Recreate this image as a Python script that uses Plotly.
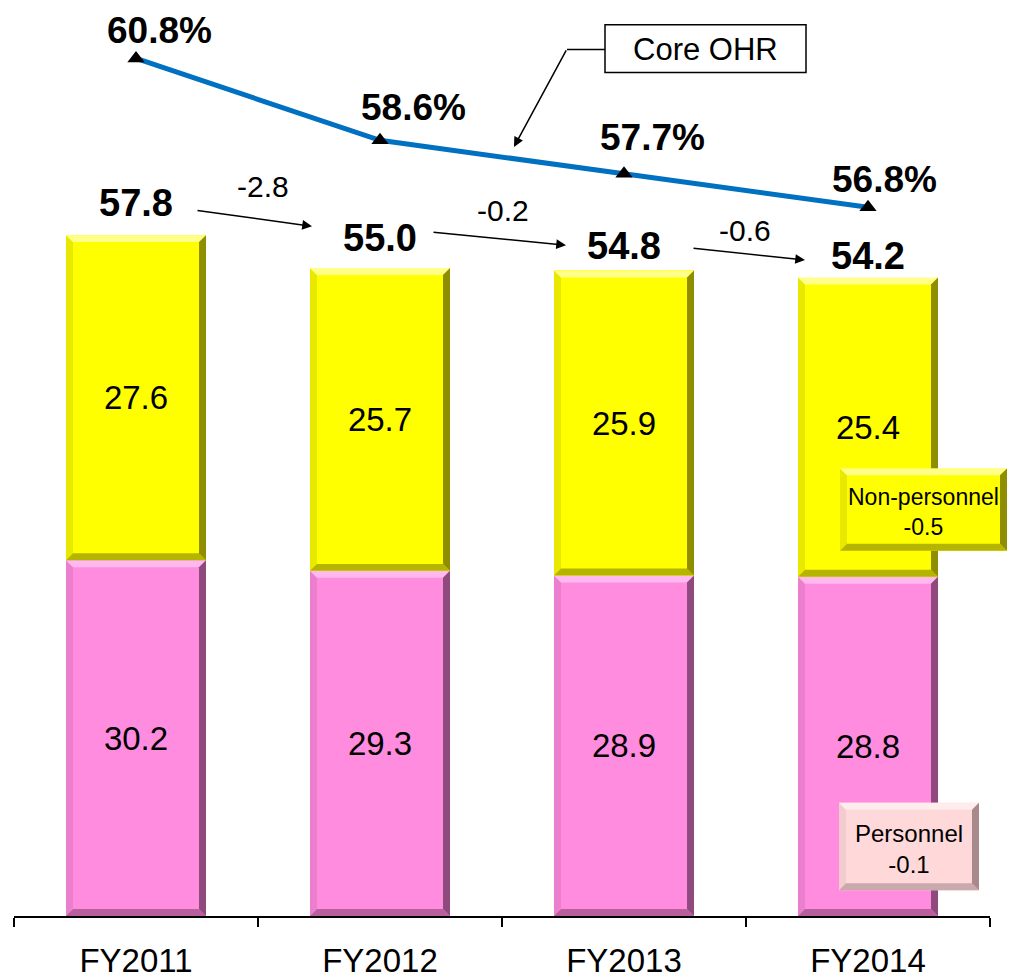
import plotly.graph_objects as go

# ---- data -------------------------------------------------------------
years = ["FY2011", "FY2012", "FY2013", "FY2014"]
personnel = [30.2, 29.3, 28.9, 28.8]
non_personnel = [27.6, 25.7, 25.9, 25.4]
totals = [57.8, 55.0, 54.8, 54.2]
core_ohr = [60.8, 58.6, 57.7, 56.8]

# ---- geometry of the plotting area (pixels) ---------------------------
W, H = 1011, 979
ML, MR, MT, MB = 14, 21, 0, 56
PW, PH = W - ML - MR, H - MT - MB
Y_RANGE = [0, 77.76]
Y2_RANGE = [37.76, 62.37]
BAR_W = 0.574
xpos = list(range(len(years)))

FONT = "Arial, Liberation Sans, sans-serif"


def paper_x(px):
    return (px - ML) / PW


def paper_y(py):
    return (MT + PH - py) / PH


# ---- bevel helper -----------------------------------------------------
def bevel(x0, x1, y0, y1, bx, by, cols, xref, yref):
    top, right, bottom, left = cols
    polys = [
        (left, [(x0, y0), (x0, y1), (x0 + bx, y1 - by), (x0 + bx, y0 + by)]),
        (bottom, [(x0, y0), (x1, y0), (x1 - bx, y0 + by), (x0 + bx, y0 + by)]),
        (top, [(x0, y1), (x1, y1), (x1 - bx, y1 - by), (x0 + bx, y1 - by)]),
        (right, [(x1, y1), (x1, y0), (x1 - bx, y0 + by), (x1 - bx, y1 - by)]),
    ]
    out = []
    for col, pts in polys:
        path = "M " + " L ".join(f"{a},{b}" for a, b in pts) + " Z"
        out.append(dict(type="path", path=path, xref=xref, yref=yref,
                        fillcolor=col, line=dict(width=0), layer="above"))
    return out


YELLOW = "#FFFF00"
PINK = "#FF8CDE"
YELLOW_BEVEL = ("#FFFF8A", "#8E8E00", "#B5B500", "#E8E800")
PINK_BEVEL = ("#FFB9EE", "#8E4A7C", "#B8609E", "#EC7FCD")

fig = go.Figure()

fig.add_trace(go.Bar(
    x=xpos, y=personnel, width=BAR_W, name="Personnel",
    marker=dict(color=PINK, line=dict(width=0)),
    text=[f"{v:.1f}" for v in personnel], textposition="inside",
    insidetextanchor="middle", constraintext="none",
    textfont=dict(family=FONT, size=33, color="black"),
))
fig.add_trace(go.Bar(
    x=xpos, y=non_personnel, width=BAR_W, name="Non-personnel",
    marker=dict(color=YELLOW, line=dict(width=0)),
    text=[f"{v:.1f}" for v in non_personnel], textposition="inside",
    insidetextanchor="middle", constraintext="none",
    textfont=dict(family=FONT, size=33, color="black"),
))
fig.add_trace(go.Scatter(
    x=xpos, y=core_ohr, yaxis="y2", mode="lines+markers", name="Core OHR",
    line=dict(color="#0070C0", width=5),
    marker=dict(symbol="triangle-up", size=15, color="black", line=dict(width=0)),
))

shapes = []
bx = 7 / (PW / 4)
by = 7 / (PH / (Y_RANGE[1] - Y_RANGE[0]))
for i in xpos:
    x0, x1 = i - BAR_W / 2, i + BAR_W / 2
    shapes += bevel(x0, x1, 0, personnel[i], bx, by, PINK_BEVEL, "x", "y")
    shapes += bevel(x0, x1, personnel[i], totals[i], bx, by, YELLOW_BEVEL, "x", "y")

annotations = []


def label(px, py, text, size, bold=False):
    annotations.append(dict(
        x=paper_x(px), y=paper_y(py), xref="paper", yref="paper",
        xanchor="center", yanchor="middle", align="center",
        text=f"<b>{text}</b>" if bold else text, showarrow=False,
        font=dict(family=FONT, size=size, color="black")))


def arrow(tail, head):
    (tx, ty), (hx, hy) = tail, head
    annotations.append(dict(
        x=paper_x(hx), y=paper_y(hy), xref="paper", yref="paper",
        ax=tx - hx, ay=ty - hy, axref="pixel", ayref="pixel", text="",
        showarrow=True, arrowhead=2, arrowsize=1.3, arrowwidth=1.5,
        arrowcolor="black", standoff=0))


# stacked totals above each bar
total_shift = [32, 30, 24, 22]
for i, t in enumerate(totals):
    annotations.append(dict(
        x=i, y=t, xref="x", yref="y", text=f"<b>{t:.1f}</b>", showarrow=False,
        xanchor="center", yanchor="middle", yshift=total_shift[i],
        font=dict(family=FONT, size=38, color="black")))

# Core OHR value labels
ohr_dx = [23, 33, 28, 16]
ohr_dy = [28, 33, 36, 28]
for i, v in enumerate(core_ohr):
    annotations.append(dict(
        x=i, y=v, xref="x", yref="y2", text=f"<b>{v:.1f}%</b>", showarrow=False,
        xanchor="center", yanchor="middle",
        xshift=ohr_dx[i], yshift=ohr_dy[i],
        font=dict(family=FONT, size=37, color="black")))

# year-on-year change arrows between totals
arrow_tail = [(196, 212), (432, 234), (692, 250)]
arrow_head = [(312, 228), (566, 247), (805, 262)]
diff_label = [(263, 188), (503, 212), (745, 232)]
for k in range(len(totals) - 1):
    d = totals[k + 1] - totals[k]
    arrow(arrow_tail[k], arrow_head[k])
    label(*diff_label[k], f"{d:.1f}", 30)

# Core OHR callout
shapes.append(dict(type="rect", xref="paper", yref="paper",
                   x0=paper_x(605), x1=paper_x(806), y0=paper_y(73), y1=paper_y(25),
                   line=dict(color="black", width=1.5), fillcolor="white"))
shapes.append(dict(type="line", xref="paper", yref="paper",
                   x0=paper_x(567), x1=paper_x(605), y0=paper_y(50), y1=paper_y(50),
                   line=dict(color="black", width=1.5)))
label(705.5, 50, "Core OHR", 31)
arrow((567, 50), (514, 148))

# change boxes for the latest year
np_delta = non_personnel[-1] - non_personnel[-2]
p_delta = personnel[-1] - personnel[-2]


def box(l, t, r, b, fill, cols, lines, size, bev=7):
    shapes.append(dict(type="rect", xref="paper", yref="paper",
                       x0=paper_x(l), x1=paper_x(r), y0=paper_y(b), y1=paper_y(t),
                       line=dict(width=0), fillcolor=fill, layer="above"))
    shapes.extend(bevel(paper_x(l), paper_x(r), paper_y(b), paper_y(t),
                        bev / PW, bev / PH, cols, "paper", "paper"))
    label((l + r) / 2, (t + b) / 2 + 2, "<br>".join(lines), size)


box(840, 472, 1007, 555, YELLOW, YELLOW_BEVEL,
    ["Non-personnel", f"{np_delta:.1f}"], 23)
box(839, 809, 979, 897, "#FFD8DA", ("#FFEDEE", "#A88A8C", "#C9A9AB", "#F2CDD0"),
    ["Personnel", f"{p_delta:.1f}"], 24)

fig.update_layout(
    width=W, height=H,
    margin=dict(l=ML, r=MR, t=MT, b=MB, pad=0),
    paper_bgcolor="white", plot_bgcolor="white",
    barmode="stack", showlegend=False,
    xaxis=dict(
        range=[-0.5, 3.5], tickvals=xpos, ticktext=years, ticks="",
        showline=True, linecolor="black", linewidth=2, showgrid=False,
        zeroline=False, ticklabelstandoff=14,
        tickfont=dict(family=FONT, size=33, color="black"),
        minor=dict(tickvals=[-0.5, 0.5, 1.5, 2.5, 3.5], ticks="outside",
                   ticklen=9, tickwidth=2, tickcolor="black", showgrid=False),
    ),
    yaxis=dict(range=Y_RANGE, visible=False, showgrid=False, zeroline=False),
    yaxis2=dict(range=Y2_RANGE, overlaying="y", side="right", visible=False,
                showgrid=False, zeroline=False),
    shapes=shapes, annotations=annotations,
)

fig.write_html("out.html")
